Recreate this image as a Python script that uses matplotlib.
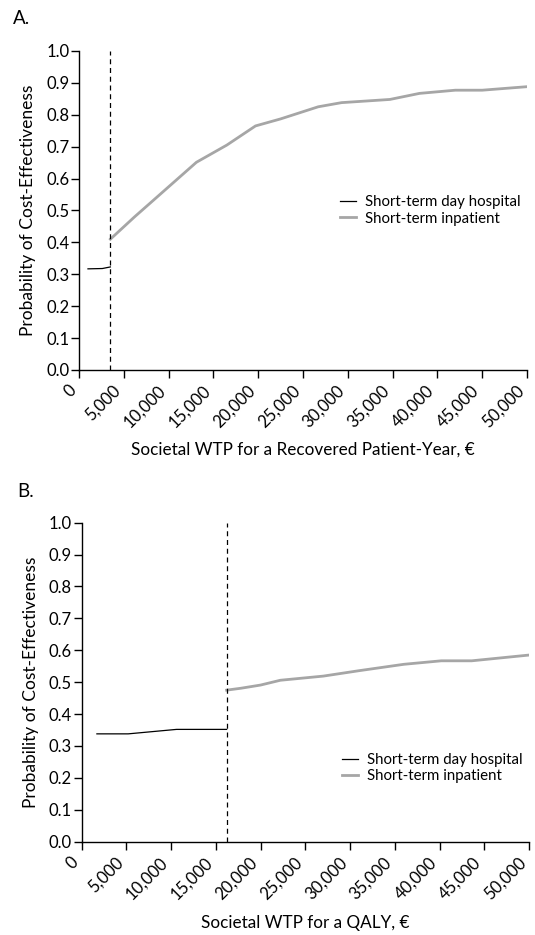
import matplotlib
matplotlib.use("Agg")
import matplotlib.pyplot as plt
from matplotlib.ticker import FuncFormatter

plt.rcParams["font.family"] = ["Lato", "DejaVu Sans"]

# panel A: WTP per recovered patient-year
a_day_x = [1000, 2600, 3500]
a_day_y = [0.317, 0.318, 0.323]
a_inp_x = [3500, 6200, 8100, 13100, 16500, 19700, 22500, 26700, 29300,
           34700, 38000, 42000, 45000, 50000]
a_inp_y = [0.41, 0.48, 0.527, 0.651, 0.705, 0.765, 0.787, 0.825, 0.838,
           0.848, 0.867, 0.877, 0.877, 0.888]
a_cut = 3500

# panel B: WTP per QALY
b_day_x = [1700, 5200, 10600, 16200]
b_day_y = [0.338, 0.338, 0.352, 0.352]
b_inp_x = [16200, 17800, 20000, 22200, 27000, 31000, 36000, 40200, 43600, 50000]
b_inp_y = [0.475, 0.481, 0.491, 0.506, 0.519, 0.536, 0.556, 0.567, 0.567, 0.585]
b_cut = 16200

x_ticks = list(range(0, 50001, 5000))
y_ticks = [i / 10 for i in range(11)]

fig = plt.figure(figsize=(5.35, 9.35), dpi=100)
ax_a = fig.add_axes([0.1477, 0.6043, 0.8373, 0.3412])
ax_b = fig.add_axes([0.1527, 0.0998, 0.8361, 0.3412])


def style(ax, xlabel, xpad):
    ax.set_xlim(0, 50000)
    ax.set_ylim(0, 1.0)
    ax.set_xticks(x_ticks)
    ax.set_yticks(y_ticks)
    ax.xaxis.set_major_formatter(FuncFormatter(lambda v, p: f"{int(v):,}"))
    ax.yaxis.set_major_formatter(FuncFormatter(lambda v, p: f"{v:.1f}"))
    for s in ["top", "right"]:
        ax.spines[s].set_visible(False)
    for s in ["left", "bottom"]:
        ax.spines[s].set_linewidth(1.0)
    ax.tick_params(direction="out", length=6, width=1.0, labelsize=12, pad=1)
    ax.tick_params(axis="x", pad=3)
    plt.setp(ax.get_xticklabels(), rotation=45, ha="right", va="top")
    ax.set_ylabel("Probability of Cost-Effectiveness", fontsize=12.5, labelpad=7)
    ax.set_xlabel(xlabel, fontsize=12.3, labelpad=xpad)


ax_a.plot(a_day_x, a_day_y, color="black", lw=0.9, label="Short-term day hospital")
ax_a.plot(a_inp_x, a_inp_y, color="#a6a6a6", lw=2, label="Short-term inpatient")
ax_a.axvline(a_cut, color="black", lw=0.9, ls=(0, (4, 3)))
style(ax_a, "Societal WTP for a Recovered Patient-Year, €", 8)
ax_a.legend(loc="center right", bbox_to_anchor=(1.0, 0.5), frameon=False,
            fontsize=10.8, handlelength=1.1, handletextpad=0.6, labelspacing=0.15,
            borderaxespad=0)

ax_b.plot(b_day_x, b_day_y, color="black", lw=0.9, label="Short-term day hospital")
ax_b.plot(b_inp_x, b_inp_y, color="#a6a6a6", lw=2, label="Short-term inpatient")
ax_b.axvline(b_cut, color="black", lw=0.9, ls=(0, (4, 3)))
style(ax_b, "Societal WTP for a QALY, €", 9)
ax_b.legend(loc="center right", bbox_to_anchor=(1.0, 0.23), frameon=False,
            fontsize=10.8, handlelength=1.1, handletextpad=0.6, labelspacing=0.15,
            borderaxespad=0)

fig.text(0.024, 0.989, "A.", fontsize=13.5, va="top")
fig.text(0.032, 0.4834, "B.", fontsize=13.5, va="top")

plt.savefig("out.png", dpi=100)
